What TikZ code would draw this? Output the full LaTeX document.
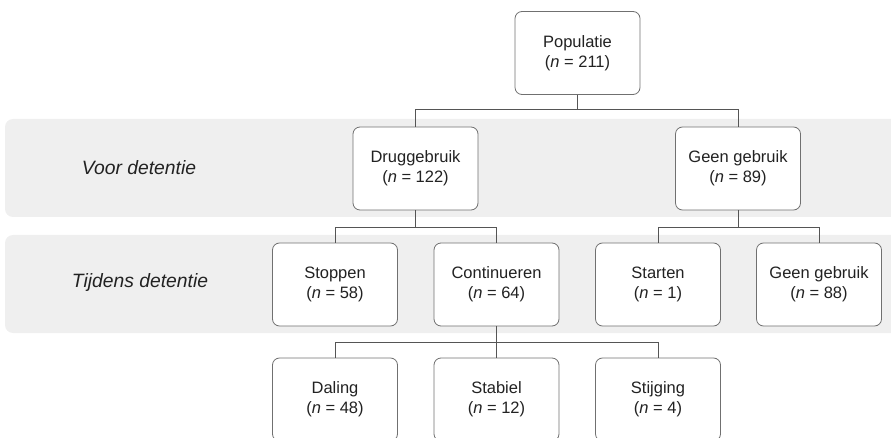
\documentclass[tikz,border=0pt]{standalone}
\usepackage{fontspec}
\setmainfont{Liberation Sans}
\definecolor{bandgray}{HTML}{EFEFEF}
\definecolor{boxline}{HTML}{707070}
\definecolor{conline}{HTML}{555555}
\definecolor{txt}{HTML}{222222}
\begin{document}
\begin{tikzpicture}[x=1pt,y=-1pt,
  band/.style={fill=bandgray,draw=none,rounded corners=8pt},
  box/.style={draw=boxline,fill=white,line width=0.8pt,rounded corners=7pt,
    minimum width=125pt,minimum height=83pt,align=center,text=txt,
    font=\fontsize{16.5}{20}\selectfont,inner sep=0pt},
  lbl/.style={text=txt,font=\fontsize{19.3}{23}\selectfont\itshape},
  con/.style={draw=conline,line width=0.8pt}]
\useasboundingbox (0,0) rectangle (891,438);
\begin{scope}
\clip (0,0) rectangle (891,438);
\fill[band] (5,119) rectangle (905,217);
\fill[band] (5,235) rectangle (905,333);
\node[lbl] (l1) at (139,168) {Voor detentie};
\node[lbl] (l2) at (140,283) {Tijdens detentie};
\coordinate (j1) at (577.5,109);
\coordinate (j2) at (415.5,227);
\coordinate (j3) at (738,227);
\coordinate (j4) at (496.5,342);
\node[box] (pop) at (577.5,53) {Populatie\\(\textit{n} = 211)};
\node[box] (drug) at (415.5,168.5) {Druggebruik\\(\textit{n} = 122)};
\node[box] (geen1) at (738,168.5) {Geen gebruik\\(\textit{n} = 89)};
\node[box] (stop) at (335,284.5) {Stoppen\\(\textit{n} = 58)};
\node[box] (cont) at (496.5,284.5) {Continueren\\(\textit{n} = 64)};
\node[box] (start) at (658,284.5) {Starten\\(\textit{n} = 1)};
\node[box] (geen2) at (819,284.5) {Geen gebruik\\(\textit{n} = 88)};
\node[box] (dal) at (335,399.5) {Daling\\(\textit{n} = 48)};
\node[box] (stab) at (496.5,399.5) {Stabiel\\(\textit{n} = 12)};
\node[box] (stij) at (658,399.5) {Stijging\\(\textit{n} = 4)};
\draw[con] (pop.south) -- (j1);
\draw[con] (j1) -| (drug.north);
\draw[con] (j1) -| (geen1.north);
\draw[con] (drug.south) -- (j2);
\draw[con] (j2) -| (stop.north);
\draw[con] (j2) -| (cont.north);
\draw[con] (geen1.south) -- (j3);
\draw[con] (j3) -| (start.north);
\draw[con] (j3) -| (geen2.north);
\draw[con] (cont.south) -- (j4);
\draw[con] (j4) -| (dal.north);
\draw[con] (j4) -| (stab.north);
\draw[con] (j4) -| (stij.north);
\end{scope}
\end{tikzpicture}
\end{document}
